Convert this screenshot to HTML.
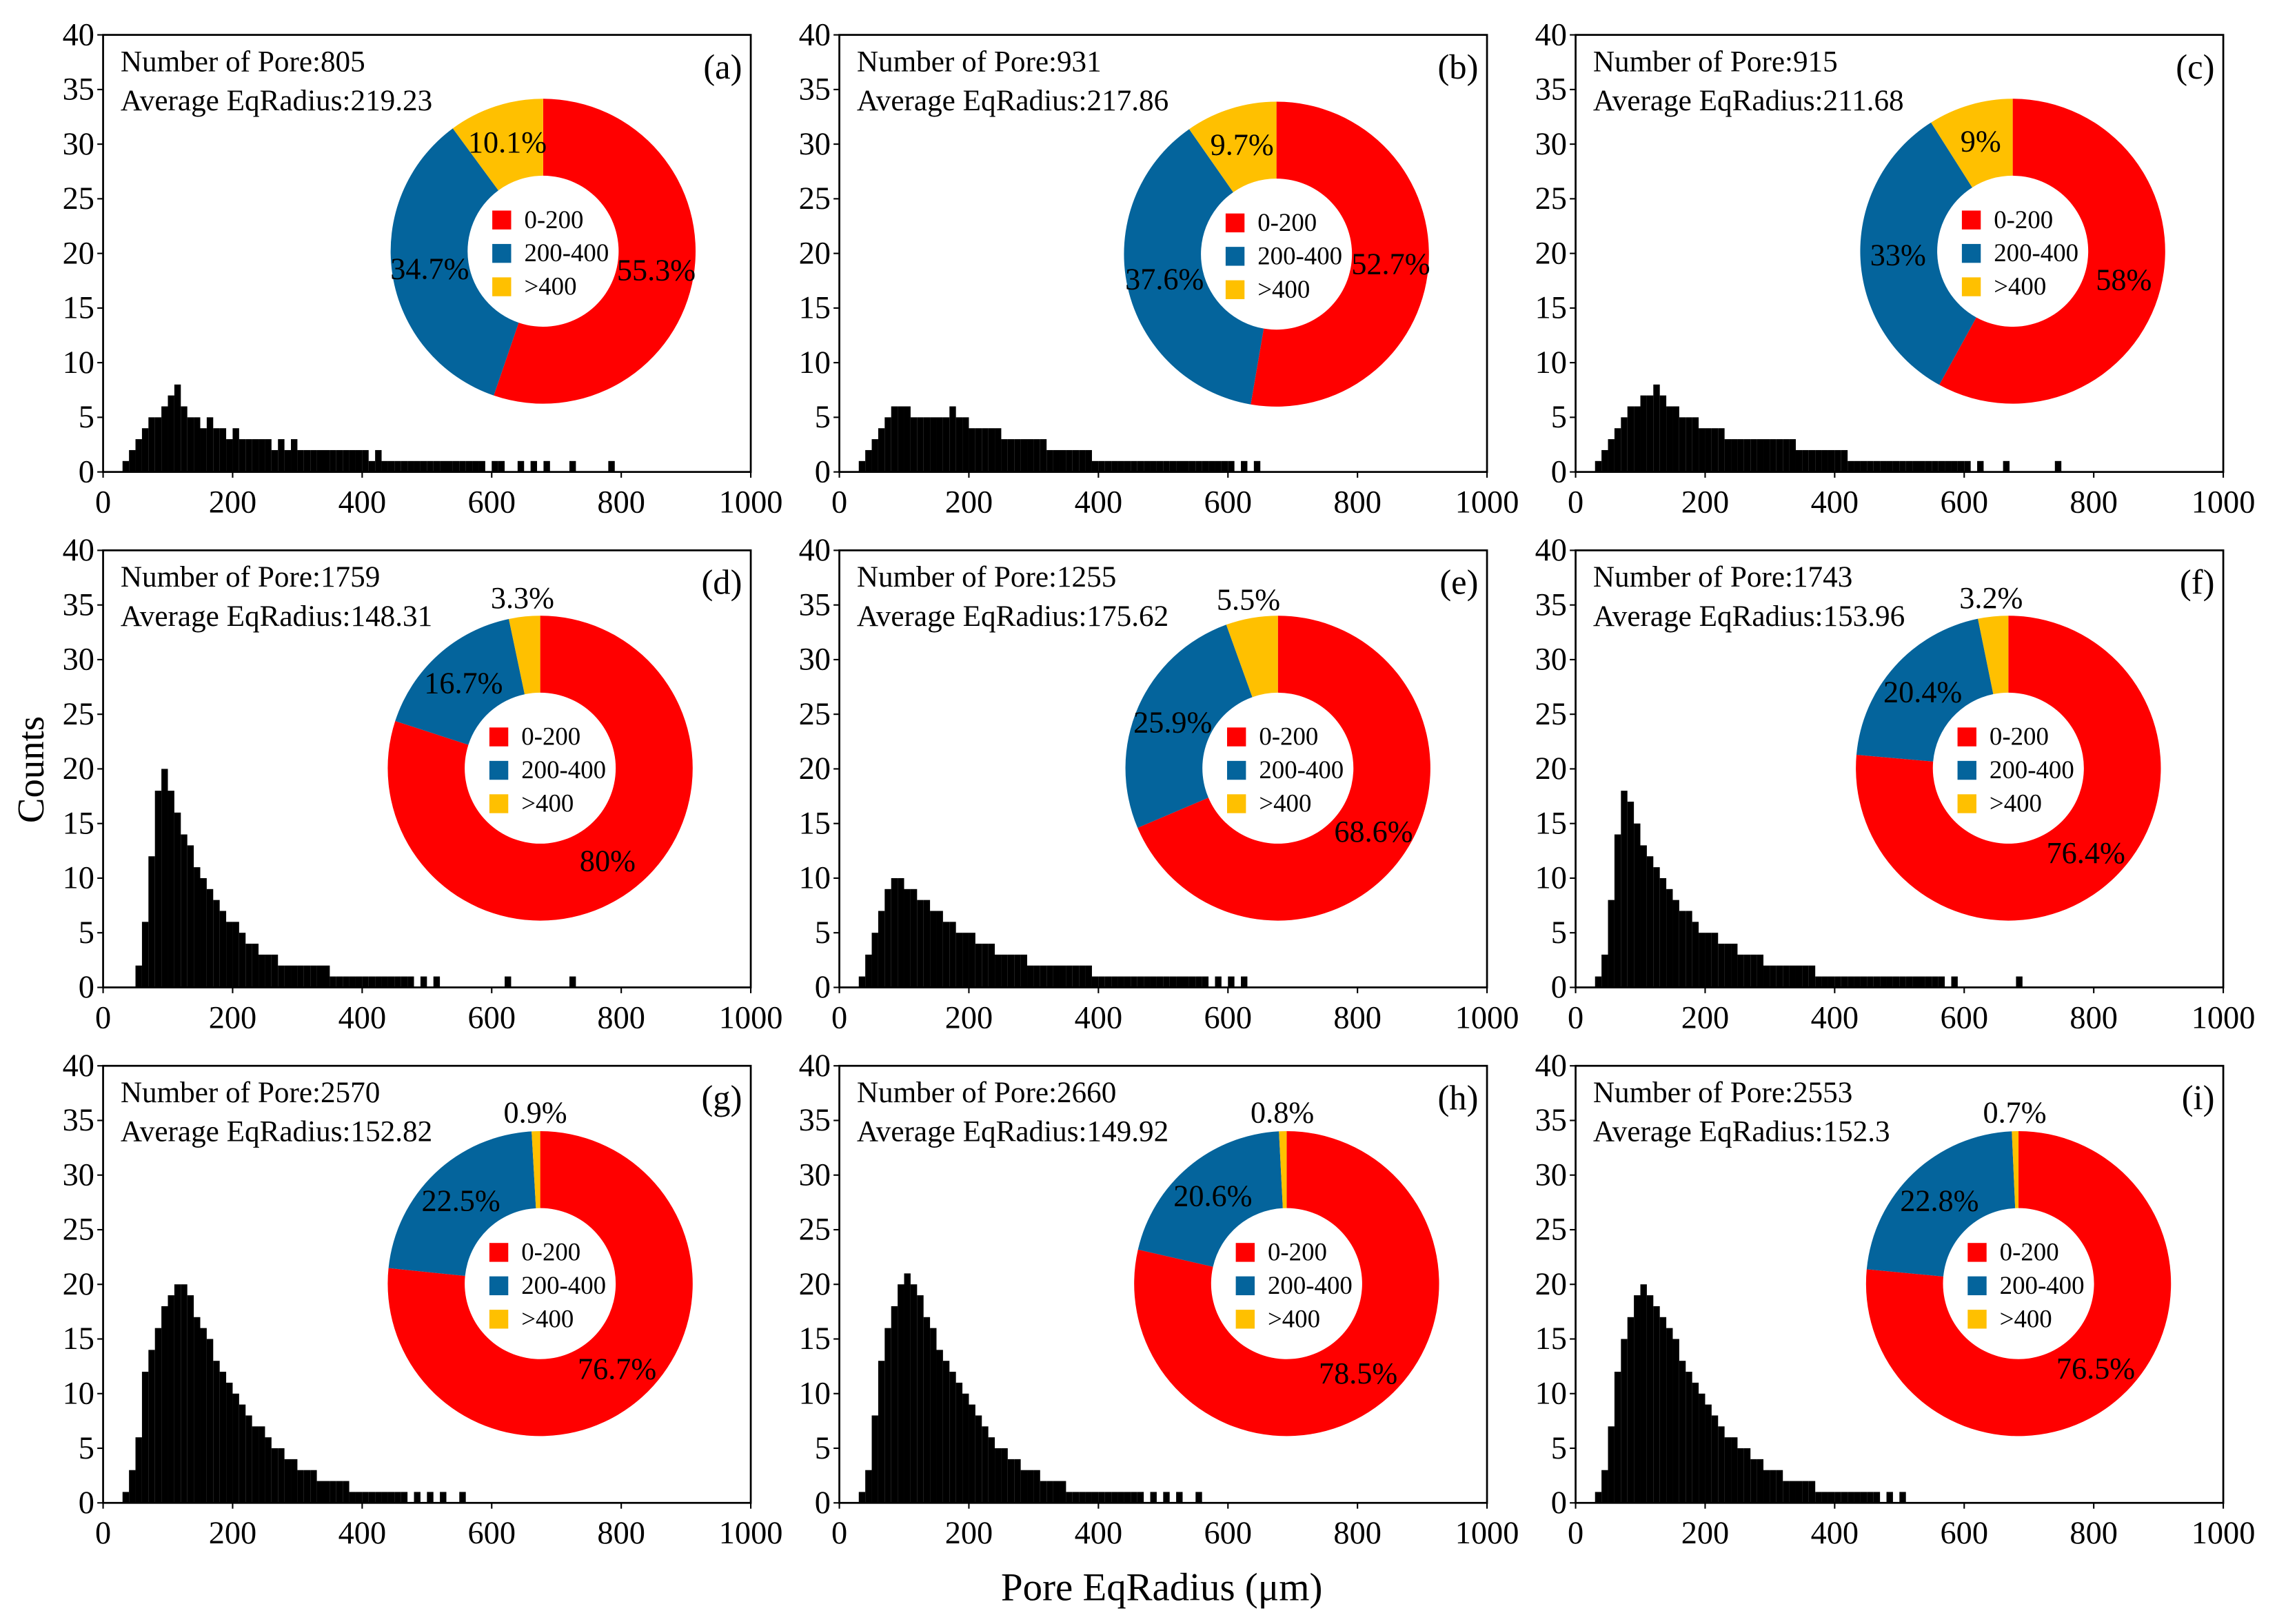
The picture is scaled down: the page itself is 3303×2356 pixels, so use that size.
<!DOCTYPE html>
<html><head><meta charset="utf-8"><style>
html,body{margin:0;padding:0;background:#fff}
svg{display:block}
text{font-family:"Liberation Serif",serif;fill:#000}
</style></head><body>
<svg id="fig" width="3303" height="2356" viewBox="0 0 1568 1118.4" xmlns="http://www.w3.org/2000/svg">
<text x="30" y="530" font-size="26" text-anchor="middle" transform="rotate(-90 30 530)">Counts</text>
<text x="800" y="1102" font-size="27" text-anchor="middle">Pore EqRadius (μm)</text>
</svg>
<script>
const panelLabels = ['(a)','(b)','(c)','(d)','(e)','(f)','(g)','(h)','(i)'];
const poreCounts = ['805','931','915','1759','1255','1743','2570','2660','2553'];
const avgRadius = ['219.23','217.86','211.68','148.31','175.62','153.96','152.82','149.92','152.3'];
const pct0to200 = [55.3,52.7,58,80,68.6,76.4,76.7,78.5,76.5];
const pct200to400 = [34.7,37.6,33,16.7,25.9,20.4,22.5,20.6,22.8];
const pctOver400 = [10.1,9.7,9,3.3,5.5,3.2,0.9,0.8,0.7];
const xTicks = [0,200,400,600,800,1000];
const yTicks = [0,5,10,15,20,25,30,35,40];
const binWidth = 10;
const histA = [0,0,0,1,2,3,4,5,5,6,7,8,6,5,5,4,5,4,4,3,4,3,3,3,3,3,2,3,2,3,2,2,2,2,2,2,2,2,2,2,2,1,2,1,1,1,1,1,1,1,1,1,1,1,1,1,1,1,1,0,1,1,0,0,1,0,1,0,1,0,0,0,1,0,0,0,0,0,1,0];
const histB = [0,0,0,1,2,3,4,5,6,6,6,5,5,5,5,5,5,6,5,5,4,4,4,4,4,3,3,3,3,3,3,3,2,2,2,2,2,2,2,1,1,1,1,1,1,1,1,1,1,1,1,1,1,1,1,1,1,1,1,1,1,0,1,0,1,0,0,0,0,0];
const histC = [0,0,0,1,2,3,4,5,6,6,7,7,8,7,6,6,5,5,5,4,4,4,4,3,3,3,3,3,3,3,3,3,3,3,2,2,2,2,2,2,2,2,1,1,1,1,1,1,1,1,1,1,1,1,1,1,1,1,1,1,1,0,1,0,0,0,1,0,0,0,0,0,0,0,1,0];
const histD = [0,0,0,0,0,2,6,12,18,20,18,16,14,13,11,10,9,8,7,6,6,5,4,4,3,3,3,2,2,2,2,2,2,2,2,1,1,1,1,1,1,1,1,1,1,1,1,1,0,1,0,1,0,0,0,0,0,0,0,0,0,0,1,0,0,0,0,0,0,0,0,0,1,0];
const histE = [0,0,0,1,3,5,7,9,10,10,9,9,8,8,7,7,6,6,5,5,5,4,4,4,3,3,3,3,3,2,2,2,2,2,2,2,2,2,2,1,1,1,1,1,1,1,1,1,1,1,1,1,1,1,1,1,1,0,1,0,1,0,1,0,0,0,0,0,0,0];
const histF = [0,0,0,1,3,8,14,18,17,15,13,12,11,10,9,8,7,7,6,5,5,5,4,4,4,3,3,3,3,2,2,2,2,2,2,2,2,1,1,1,1,1,1,1,1,1,1,1,1,1,1,1,1,1,1,1,1,0,1,0,0,0,0,0,0,0,0,0,1,0];
const histG = [0,0,0,1,3,6,12,14,16,18,19,20,20,19,17,16,15,13,12,11,10,9,8,7,7,6,5,5,4,4,3,3,3,2,2,2,2,2,1,1,1,1,1,1,1,1,1,0,1,0,1,0,1,0,0,1,0];
const histH = [0,0,0,1,3,8,13,16,18,20,21,20,19,17,16,14,13,12,11,10,9,8,7,6,5,5,4,4,3,3,3,2,2,2,2,1,1,1,1,1,1,1,1,1,1,1,1,0,1,0,1,0,1,0,0,1,0];
const histI = [0,0,0,1,3,7,12,15,17,19,20,19,18,17,16,15,13,12,11,10,9,8,7,6,6,5,5,4,4,3,3,3,2,2,2,2,2,1,1,1,1,1,1,1,1,1,1,0,1,0,1,0];
const hists = [histA,histB,histC,histD,histE,histF,histG,histH,histI];

const NS='http://www.w3.org/2000/svg';
const svg=document.getElementById('fig');
function mk(tag,attrs,parent){const e=document.createElementNS(NS,tag);for(const k in attrs)e.setAttribute(k,attrs[k]);(parent||svg).appendChild(e);return e;}
const colX=[71,578,1085], rowB=[325,680,1035], PW=446, PH=301;
const pieC=[[374,173],[879,175],[1386,173],[372,529],[880,529],[1383,529],[372,884],[886,884],[1390,884]];
const RO=105, RI=52;
function arc(cx,cy,a0,a1){
  const p=(r,a)=>[cx+r*Math.sin(a*2*Math.PI),cy-r*Math.cos(a*2*Math.PI)];
  const large=(a1-a0)>0.5?1:0;
  const [x0,y0]=p(RO,a0),[x1,y1]=p(RO,a1),[x2,y2]=p(RI,a1),[x3,y3]=p(RI,a0);
  return `M${x0},${y0}A${RO},${RO} 0 ${large} 1 ${x1},${y1}L${x2},${y2}A${RI},${RI} 0 ${large} 0 ${x3},${y3}Z`;
}
for(let i=0;i<9;i++){
  const x0=colX[i%3], yb=rowB[Math.floor(i/3)], yt=yb-PH;
  const sx=v=>x0+v/1000*PW, sy=v=>yb-v/40*PH;
  const g=mk('g',{});
  
  
  const h=hists[i];
  for(let b=0;b<h.length;b++){ if(!h[b])continue;
    const r=mk('rect',{x:sx(b*binWidth),y:sy(h[b]),width:sx(binWidth)-sx(0),height:sy(0)-sy(h[b]),fill:'#000'},g);
    
    
  }
  const f=mk('rect',{x:x0,y:yt,width:PW,height:PH,fill:'none',stroke:'#000','stroke-width':1.3},g);
  
  
  xTicks.forEach(t=>{mk('line',{x1:sx(t),x2:sx(t),y1:yb,y2:yb+4,stroke:'#000'},g);
    const tx=mk('text',{x:sx(t),y:yb+28,'font-size':22,'text-anchor':'middle'},g);tx.textContent=t;
    
    });
  yTicks.forEach(t=>{mk('line',{x1:x0-4,x2:x0,y1:sy(t),y2:sy(t),stroke:'#000'},g);
    const tx=mk('text',{x:x0-6,y:sy(t)+7,'font-size':22,'text-anchor':'end'},g);tx.textContent=t;
    
    });
  const t1=mk('text',{x:x0+12,y:yt+25,'font-size':20.5},g);t1.textContent='Number of Pore:'+poreCounts[i];
  
  
  const t2=mk('text',{x:x0+12,y:yt+52,'font-size':20.5},g);t2.textContent='Average EqRadius:'+avgRadius[i];
  
  
  const t3=mk('text',{x:x0+PW-6,y:yt+30,'font-size':24,'text-anchor':'end'},g);t3.textContent=panelLabels[i];
  
  
  const [cx,cy]=pieC[i];
  const vals=[pct0to200[i],pct200to400[i],pctOver400[i]], cols=['#ff0000','#04649c','#ffc000'];
  const tot=vals[0]+vals[1]+vals[2];
  let a=0;
  vals.forEach((v,k)=>{const a1=a+v/tot;
    const p=mk('path',{d:arc(cx,cy,a,a1),fill:cols[k]},g);
    
    
    const m=(a+a1)/2, rr=v<7?118:79;
    const lx=cx+rr*Math.sin(m*2*Math.PI), ly=cy-rr*Math.cos(m*2*Math.PI)+7;
    const lt=mk('text',{x:lx,y:ly,'font-size':21,'text-anchor':'middle'},g);lt.textContent=v+'%';
    
    
    a=a1;});
  ['0-200','200-400','>400'].forEach((s,k)=>{
    const ly=cy-22+k*23;
    const r=mk('rect',{x:cx-35,y:ly-6,width:13,height:13,fill:cols[k]},g);
    
    
    const lt=mk('text',{x:cx-13,y:ly+6,'font-size':17.5},g);lt.textContent=s;
    
    
  });
}
</script>
</body></html>
